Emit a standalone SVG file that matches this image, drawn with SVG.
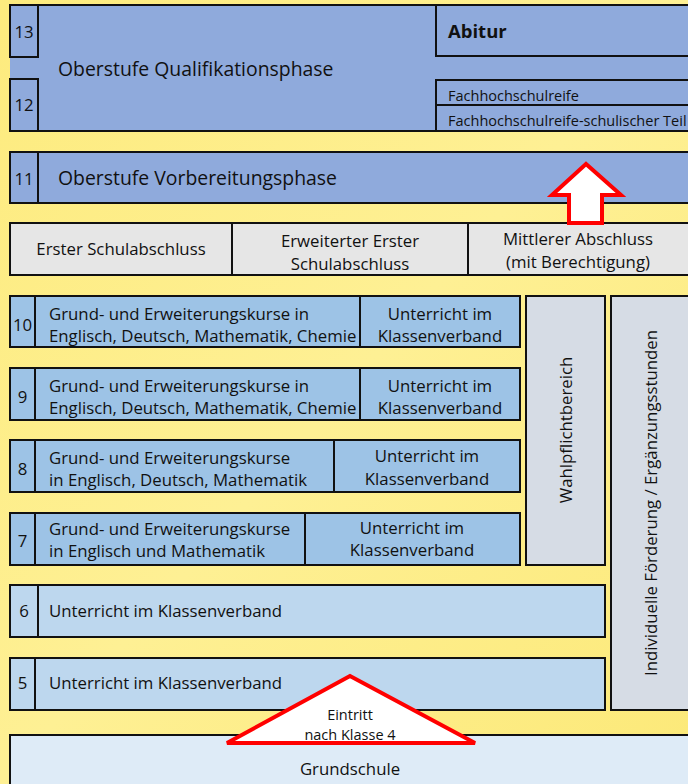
<svg xmlns="http://www.w3.org/2000/svg" width="688" height="784" viewBox="0 0 688 784">
<defs>
<style>
.b{stroke:#111;stroke-width:2}
.q{fill:#8FAADC}
.m{fill:#9DC3E6}
.l{fill:#BDD7EE}
.g{fill:#E6E6E6}
.s{fill:#D6DCE5}
.t{font-family:"Open Sans","Noto Sans",sans-serif;fill:#111;font-size:16.8px}
.big{font-size:19.4px}
.sm{font-size:14.5px}
.tri{font-size:14.5px}
.c{text-anchor:middle}
.red{fill:#fff;stroke:#FF0000;stroke-width:4;stroke-linejoin:miter}
</style>
<linearGradient id="bg" x1="0" y1="0" x2="1" y2="1">
<stop offset="0" stop-color="#FDEB7E"/>
<stop offset="0.5" stop-color="#FEF094"/>
<stop offset="1" stop-color="#FCE978"/>
</linearGradient>
</defs>
<rect x="0" y="0" width="688" height="784" fill="url(#bg)"/>

<g id="qualifikation">
<rect x="10" y="5" width="690" height="126" class="q"/>
<path d="M10 5H700M10 131H700" class="b" fill="none"/>
<rect x="10" y="5" width="28" height="52" class="q b"/>
<rect x="10" y="79" width="28" height="52" class="q b"/>
<text x="24" y="38" class="t c">13</text>
<text x="24" y="111" class="t c">12</text>
<text x="58" y="76" class="t big">Oberstufe Qualifikationsphase</text>
</g>
<g id="abitur">
<rect x="436" y="5" width="264" height="51" class="q b"/>
<text x="448" y="38" class="t" style="font-size:18.5px;font-weight:bold">Abitur</text>
</g>
<g id="fachhochschulreife">
<rect x="436" y="80" width="264" height="25" class="q b"/>
<text x="448" y="101" class="t sm">Fachhochschulreife</text>
</g>
<g id="fachhochschulreife-schulisch">
<rect x="436" y="105" width="264" height="26" class="q b"/>
<text x="448" y="126" class="t sm">Fachhochschulreife-schulischer Teil</text>
</g>

<g id="vorbereitung">
<rect x="10" y="152" width="690" height="51" class="q b"/>
<rect x="10" y="152" width="28" height="51" class="q b"/>
<text x="24" y="185" class="t c">11</text>
<text x="58" y="185" class="t big">Oberstufe Vorbereitungsphase</text>
</g>

<g id="abschluss-erster">
<rect x="10" y="223" width="222" height="52" class="g b"/>
<text x="121" y="255" class="t c">Erster Schulabschluss</text>
</g>
<g id="abschluss-erweitert">
<rect x="232" y="223" width="236" height="52" class="g b"/>
<text x="350" y="247" class="t c">Erweiterter Erster</text>
<text x="350" y="270" class="t c">Schulabschluss</text>
</g>
<g id="abschluss-mittlerer">
<rect x="468" y="223" width="232" height="52" class="g b"/>
<text x="578" y="245" class="t c">Mittlerer Abschluss</text>
<text x="578" y="268" class="t c">(mit Berechtigung)</text>
</g>

<g id="klasse10">
<rect x="10" y="296" width="510" height="51" class="m b"/>
<rect x="10" y="296" width="25" height="51" class="m b"/>
<line x1="360" y1="296" x2="360" y2="347" class="b"/>
<text x="22.5" y="331" class="t c">10</text>
<text x="49" y="320" class="t">Grund- und Erweiterungskurse in</text>
<text x="49" y="342" class="t">Englisch, Deutsch, Mathematik, Chemie</text>
<text x="440" y="320" class="t c">Unterricht im</text>
<text x="440" y="342" class="t c">Klassenverband</text>
</g>
<g id="klasse9">
<rect x="10" y="368" width="510" height="52" class="m b"/>
<rect x="10" y="368" width="25" height="52" class="m b"/>
<line x1="360" y1="368" x2="360" y2="420" class="b"/>
<text x="22.5" y="403" class="t c">9</text>
<text x="49" y="392" class="t">Grund- und Erweiterungskurse in</text>
<text x="49" y="414" class="t">Englisch, Deutsch, Mathematik, Chemie</text>
<text x="440" y="392" class="t c">Unterricht im</text>
<text x="440" y="414" class="t c">Klassenverband</text>
</g>
<g id="klasse8">
<rect x="10" y="440" width="510" height="52" class="m b"/>
<rect x="10" y="440" width="25" height="52" class="m b"/>
<line x1="334" y1="440" x2="334" y2="492" class="b"/>
<text x="22.5" y="475" class="t c">8</text>
<text x="49" y="464" class="t">Grund- und Erweiterungskurse</text>
<text x="49" y="486" class="t">in Englisch, Deutsch, Mathematik</text>
<text x="427" y="462" class="t c">Unterricht im</text>
<text x="427" y="485" class="t c">Klassenverband</text>
</g>
<g id="klasse7">
<rect x="10" y="513" width="510" height="52" class="m b"/>
<rect x="10" y="513" width="25" height="52" class="m b"/>
<line x1="305" y1="513" x2="305" y2="565" class="b"/>
<text x="22.5" y="547" class="t c">7</text>
<text x="49" y="535" class="t">Grund- und Erweiterungskurse</text>
<text x="49" y="557" class="t">in Englisch und Mathematik</text>
<text x="412" y="534" class="t c">Unterricht im</text>
<text x="412" y="556" class="t c">Klassenverband</text>
</g>
<g id="klasse6">
<rect x="10" y="585" width="595" height="52" class="l b"/>
<rect x="10" y="585" width="28" height="52" class="l b"/>
<text x="24" y="617" class="t c">6</text>
<text x="49" y="617" class="t">Unterricht im Klassenverband</text>
</g>
<g id="klasse5">
<rect x="10" y="658" width="595" height="52" class="l b"/>
<rect x="10" y="658" width="25" height="52" class="l b"/>
<text x="22.5" y="689" class="t c">5</text>
<text x="49" y="689" class="t">Unterricht im Klassenverband</text>
</g>

<g id="wahlpflicht">
<rect x="526" y="296" width="79" height="269" class="s b"/>
<text transform="translate(572 430) rotate(-90)" class="t c">Wahlpflichtbereich</text>
</g>
<g id="foerderung">
<rect x="611" y="296" width="89" height="414" class="s b"/>
<text transform="translate(657 503) rotate(-90)" class="t c">Individuelle Förderung / Ergänzungsstunden</text>
</g>

<g id="grundschule">
<rect x="10" y="735" width="690" height="60" fill="#DEEBF7" class="b"/>
<text x="350" y="775" class="t c">Grundschule</text>
</g>

<g id="connectors">
<path d="M586 164L552 195H569V223H602V195H621Z" class="red"/>
<path d="M350 676L227 743H475Z" class="red"/>
<text class="t c tri"><tspan x="350" y="720">Eintritt</tspan><tspan x="350" y="740">nach Klasse 4</tspan></text>
</g>
</svg>
